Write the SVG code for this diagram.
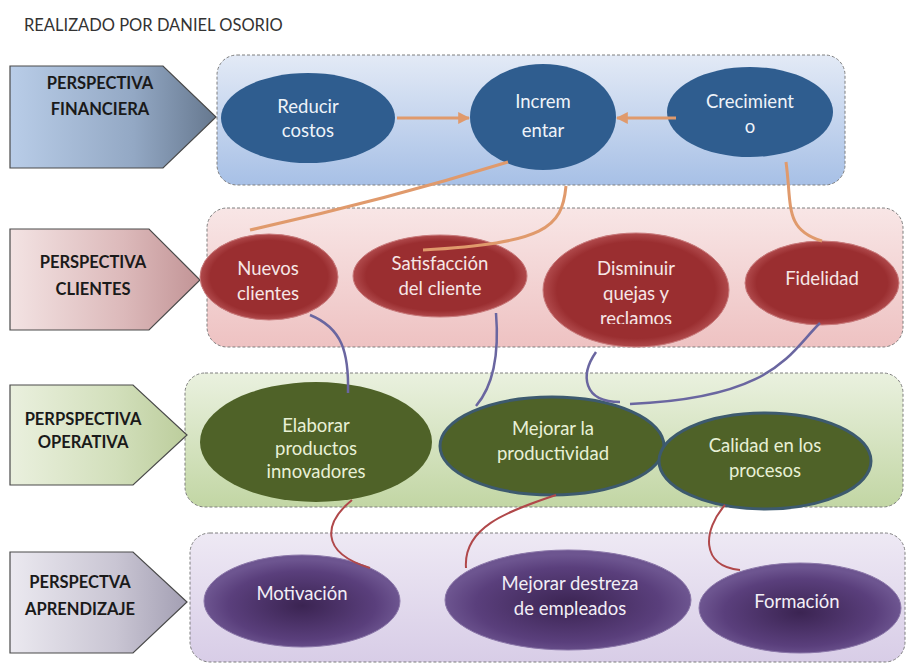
<svg xmlns="http://www.w3.org/2000/svg" width="906" height="664" viewBox="0 0 906 664">
<defs>
<linearGradient id="gBandFin" x1="0" y1="0" x2="0" y2="1"><stop offset="0" stop-color="#e3eaf6"/><stop offset="1" stop-color="#a7c0e6"/></linearGradient>
<linearGradient id="gBandCli" x1="0" y1="0" x2="0" y2="1"><stop offset="0" stop-color="#f8e6e6"/><stop offset="1" stop-color="#eec2c2"/></linearGradient>
<linearGradient id="gBandOpe" x1="0" y1="0" x2="0" y2="1"><stop offset="0" stop-color="#eaf1df"/><stop offset="1" stop-color="#c2d6a4"/></linearGradient>
<linearGradient id="gBandApr" x1="0" y1="0" x2="0" y2="1"><stop offset="0" stop-color="#eee9f4"/><stop offset="1" stop-color="#d8cde7"/></linearGradient>
<linearGradient id="gArrFin" x1="0" y1="0" x2="1" y2="0"><stop offset="0" stop-color="#b9cde8"/><stop offset="0.6" stop-color="#93a8c4"/><stop offset="1" stop-color="#66788f"/></linearGradient>
<linearGradient id="gArrCli" x1="0" y1="0" x2="1" y2="0"><stop offset="0" stop-color="#f3e3e3"/><stop offset="0.6" stop-color="#dcb9ba"/><stop offset="1" stop-color="#c29496"/></linearGradient>
<linearGradient id="gArrOpe" x1="0" y1="0" x2="1" y2="0"><stop offset="0" stop-color="#eaf0de"/><stop offset="0.6" stop-color="#d2dfbb"/><stop offset="1" stop-color="#bccd9c"/></linearGradient>
<linearGradient id="gArrApr" x1="0" y1="0" x2="1" y2="0"><stop offset="0" stop-color="#ebe9f0"/><stop offset="0.6" stop-color="#c9c5d3"/><stop offset="1" stop-color="#a39fb3"/></linearGradient>
<radialGradient id="gPur" cx="0.5" cy="0.55" r="0.5"><stop offset="0" stop-color="#3b2452"/><stop offset="0.75" stop-color="#5a3f7c"/><stop offset="1" stop-color="#6d5590"/></radialGradient>
<radialGradient id="gRed" cx="0.5" cy="0.5" r="0.5"><stop offset="0.85" stop-color="#9a2e30"/><stop offset="1" stop-color="#b04a4c"/></radialGradient>
<marker id="arr" viewBox="0 0 10 10" refX="9" refY="5" markerWidth="4" markerHeight="4" orient="auto"><path d="M0,0 L10,5 L0,10 z" fill="#e09a6c"/></marker>
<clipPath id="clipDis"><rect x="540" y="230" width="200" height="94"/></clipPath>
</defs>
<style>
.band{stroke:#7f7f7f;stroke-width:1;stroke-dasharray:3,2}
.tag{stroke:#4a4a4a;stroke-width:1.2}
.tagt{font-family:Lato,"Liberation Sans",sans-serif;font-weight:bold;font-size:16.5px;fill:#1a1a1a;text-anchor:middle}
.nt{font-family:Lato,"Liberation Sans",sans-serif;font-size:18.5px;text-anchor:middle}
.fin{fill:#2f5d8f}
.fint{fill:#eef3f9}
.cli{fill:url(#gRed);stroke:#c87a7b;stroke-width:1}
.clit{fill:#f6e6e6}
.ope{fill:#4f6228}
.opeb{stroke:#3d5a6e;stroke-width:3}
.opet{fill:#e8f0d6}
.apr{fill:url(#gPur);stroke:#8a76a8;stroke-width:1}
.aprt{fill:#f2eef6}
.cOr{fill:none;stroke:#e09a6c;stroke-width:3}
.cPu{fill:none;stroke:#6a66a0;stroke-width:2.5}
.cRe{fill:none;stroke:#b0484a;stroke-width:2}
</style>
<rect width="906" height="664" fill="#ffffff"/>
<text x="24" y="31" font-family="Lato,'Liberation Sans',sans-serif" font-size="16.5" fill="#333333">REALIZADO POR DANIEL OSORIO</text>

<!-- bands -->
<g id="band-financiera"><rect class="band" x="217" y="55" width="628" height="130" rx="20" fill="url(#gBandFin)"/></g>
<g id="band-clientes"><rect class="band" x="207" y="208" width="696" height="139" rx="20" fill="url(#gBandCli)"/></g>
<g id="band-operativa"><rect class="band" x="185" y="373" width="718" height="134" rx="20" fill="url(#gBandOpe)"/></g>
<g id="band-aprendizaje"><rect class="band" x="190" y="533" width="715" height="129" rx="20" fill="url(#gBandApr)"/></g>

<!-- perspective tags -->
<g id="tag-financiera"><polygon class="tag" points="10,66 163,66 216,117 163,168 10,168" fill="url(#gArrFin)"/><text class="tagt" x="100" y="89">PERSPECTIVA</text><text class="tagt" x="100" y="115">FINANCIERA</text></g>
<g id="tag-clientes"><polygon class="tag" points="10,229 149,229 200,280 149,330 10,330" fill="url(#gArrCli)"/><text class="tagt" x="93" y="268">PERSPECTIVA</text><text class="tagt" x="93" y="295">CLIENTES</text></g>
<g id="tag-operativa"><polygon class="tag" points="10,385 133,385 187,435 133,485 10,485" fill="url(#gArrOpe)"/><text class="tagt" x="83" y="425">PERPSPECTIVA</text><text class="tagt" x="83" y="448">OPERATIVA</text></g>
<g id="tag-aprendizaje"><polygon class="tag" points="10,552 133,552 187,602 133,653 10,653" fill="url(#gArrApr)"/><text class="tagt" x="80" y="588">PERSPECTVA</text><text class="tagt" x="80" y="615">APRENDIZAJE</text></g>

<!-- financiera nodes -->
<g id="reducir-costos"><ellipse class="fin" cx="308" cy="118" rx="87" ry="45"/><text class="nt fint" x="308" y="113">Reducir</text><text class="nt fint" x="308" y="137">costos</text></g>
<g id="incrementar"><ellipse class="fin" cx="543" cy="117" rx="73" ry="53"/><text class="nt fint" x="543" y="108" font-size="21.5">Increm</text><text class="nt fint" x="543" y="137" font-size="21.5">entar</text></g>
<g id="crecimiento"><ellipse class="fin" cx="750" cy="112" rx="83" ry="45"/><text class="nt fint" x="750" y="108">Crecimient</text><text class="nt fint" x="750" y="133">o</text></g>

<!-- clientes nodes -->
<g id="nuevos-clientes"><ellipse class="cli" cx="269" cy="277" rx="69" ry="43"/><text class="nt clit" x="268" y="275">Nuevos</text><text class="nt clit" x="268" y="300">clientes</text></g>
<g id="satisfaccion"><ellipse class="cli" cx="440" cy="276" rx="87" ry="41"/><text class="nt clit" x="440" y="270">Satisfacción</text><text class="nt clit" x="440" y="295">del cliente</text></g>
<g id="disminuir-quejas"><ellipse class="cli" cx="636" cy="290" rx="93" ry="57"/><g clip-path="url(#clipDis)"><text class="nt clit" x="636" y="275">Disminuir</text><text class="nt clit" x="636" y="300">quejas y</text><text class="nt clit" x="636" y="325">reclamos</text></g></g>
<g id="fidelidad"><ellipse class="cli" cx="822" cy="283" rx="77" ry="42"/><text class="nt clit" x="822" y="285">Fidelidad</text></g>

<!-- operativa nodes -->
<g id="elaborar-productos"><ellipse class="ope" cx="316" cy="442" rx="116" ry="60"/><text class="nt opet" x="316" y="432">Elaborar</text><text class="nt opet" x="316" y="455">productos</text><text class="nt opet" x="316" y="478">innovadores</text></g>
<g id="mejorar-productividad"><ellipse class="ope opeb" cx="552" cy="446" rx="112" ry="49"/><text class="nt opet" x="553" y="435">Mejorar la</text><text class="nt opet" x="553" y="460">productividad</text></g>
<g id="calidad-procesos"><ellipse class="ope opeb" cx="765" cy="461" rx="106" ry="48"/><text class="nt opet" x="765" y="452">Calidad en los</text><text class="nt opet" x="765" y="477">procesos</text></g>

<!-- aprendizaje nodes -->
<g id="motivacion"><ellipse class="apr" cx="302" cy="601" rx="98" ry="46"/><text class="nt aprt" x="302" y="600">Motivación</text></g>
<g id="mejorar-destreza"><ellipse class="apr" cx="568" cy="600" rx="123" ry="50"/><text class="nt aprt" x="570" y="590">Mejorar destreza</text><text class="nt aprt" x="570" y="615">de empleados</text></g>
<g id="formacion"><ellipse class="apr" cx="800" cy="608" rx="101" ry="45"/><text class="nt aprt" x="797" y="608">Formación</text></g>

<!-- connectors -->
<g id="connectors">
<line class="cOr" x1="397" y1="118" x2="469" y2="118" marker-end="url(#arr)"/>
<line class="cOr" x1="676" y1="118" x2="617" y2="118" marker-end="url(#arr)"/>
<path class="cOr" d="M250,230 Q385,200 508,162"/>
<path class="cOr" d="M566,186 C562,228 545,243 423,250"/>
<path class="cOr" d="M786,162 C792,205 784,230 822,241" stroke="#d9a27a"/>
<path class="cPu" d="M310,315 C342,328 349,352 348,393"/>
<path class="cPu" d="M496,313 C499,350 494,385 476,406"/>
<path class="cPu" d="M596,352 C580,375 583,402 620,402"/>
<path class="cPu" d="M820,323 C790,352 775,398 630,404"/>
<path class="cRe" d="M352,500 C325,522 318,552 370,568"/>
<path class="cRe" d="M556,495 C505,512 463,528 466,568"/>
<path class="cRe" d="M725,505 C703,530 700,566 740,570"/>
</g>
</svg>
